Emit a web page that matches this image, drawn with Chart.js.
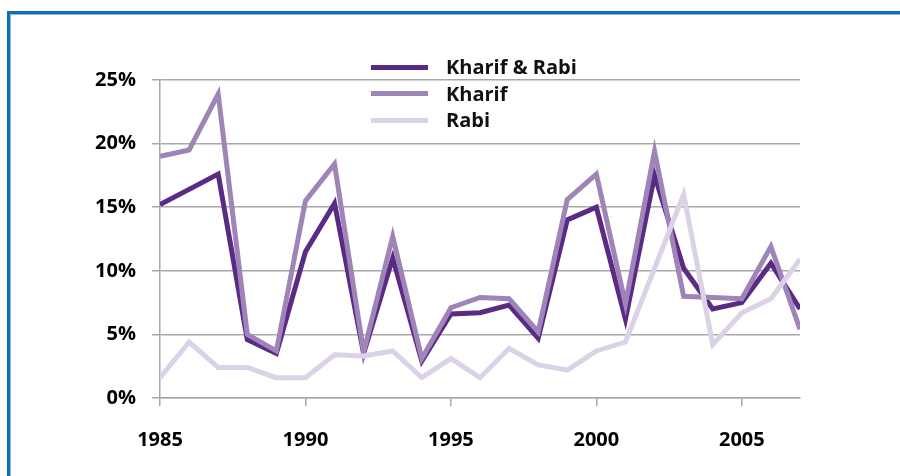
<!DOCTYPE html>
<html>
<head>
<meta charset="utf-8">
<script src="https://cdn.jsdelivr.net/npm/chart.js@4/dist/chart.umd.min.js"></script>
<style>
  html, body { margin: 0; padding: 0; background: #fff; }
  #wrap { position: relative; width: 900px; height: 476px; overflow: hidden; font-family: "Open Sans", sans-serif; }
  #frame { position: absolute; left: 7px; top: 11px; width: 1000px; height: 600px; border-top: 3px solid #0e6fb4; border-left: 3px solid #0e6fb4; }
  #frame-in { position: absolute; left: 0; top: 0; right: 0; bottom: 0; border-top: 1px solid #8ab9df; border-left: 1px solid #8ab9df; }
  canvas { position: absolute; left: 0; top: 0; }
  #legend { position: absolute; left: 371px; top: 54px; }
  .row { height: 26.5px; display: flex; align-items: center; }
  .swatch { width: 57px; height: 5px; margin-right: 18px; }
  .row span { font-weight: 700; font-size: 20px; color: #111; line-height: 1; }
</style>
</head>
<body>
<div id="wrap">
  <div id="frame"><div id="frame-in"></div></div>
  <canvas id="chart" width="900" height="476"></canvas>
  <div id="legend"></div>
</div>
<script>
  // annees et series (part en %)
  const YEARS = [1985, 1986, 1987, 1988, 1989, 1990, 1991, 1992, 1993, 1994, 1995, 1996,
                 1997, 1998, 1999, 2000, 2001, 2002, 2003, 2004, 2005, 2006, 2007];
  const KHARIF_RABI = [15.2, 16.4, 17.6, 4.6, 3.5, 11.5, 15.3, 3.5, 11.0, 2.9, 6.6, 6.7,
                       7.3, 4.7, 14.0, 15.0, 6.2, 17.5, 10.2, 7.0, 7.5, 10.6, 7.0];
  const KHARIF = [19.0, 19.5, 23.9, 5.0, 3.7, 15.5, 18.4, 3.6, 12.7, 3.1, 7.1, 7.9,
                  7.8, 5.2, 15.6, 17.6, 7.4, 19.4, 8.0, 7.9, 7.8, 11.9, 5.4];
  const RABI = [1.6, 4.4, 2.4, 2.4, 1.6, 1.6, 3.4, 3.3, 3.7, 1.6, 3.1, 1.6,
                3.9, 2.6, 2.2, 3.7, 4.4, 10.2, 16.0, 4.2, 6.7, 7.8, 10.9];
  const Y_TICKS = [0, 5, 10, 15, 20, 25];
  const X_TICKS = [1985, 1990, 1995, 2000, 2005];

  const SERIES = [
    { label: 'Kharif & Rabi', data: KHARIF_RABI, color: '#5a2a85', order: 2 },
    { label: 'Kharif', data: KHARIF, color: '#9f84b8', order: 1 },
    { label: 'Rabi', data: RABI, color: '#dcd2e8', order: 0 },
  ];

  const GRID = '#a8a8a8';
  const FONT = { family: '"Open Sans", sans-serif', size: 20, weight: '700' };

  new Chart(document.getElementById('chart'), {
    type: 'line',
    data: {
      datasets: SERIES.map(s => ({
        label: s.label,
        data: YEARS.map((y, i) => ({ x: y, y: s.data[i] })),
        borderColor: s.color,
        backgroundColor: s.color,
        borderWidth: 5,
        borderJoinStyle: 'miter',
        pointRadius: 0,
        tension: 0,
        order: s.order,
      })),
    },
    options: {
      responsive: false,
      animation: false,
      layout: { padding: { left: 0, right: 100, top: 80, bottom: 0 } },
      plugins: { legend: { display: false }, tooltip: { enabled: false } },
      scales: {
        x: {
          type: 'linear',
          min: 1985,
          max: 2007,
          afterBuildTicks: sc => { sc.ticks = X_TICKS.map(v => ({ value: v })); },
          afterFit: sc => { sc.height = 78; },
          grid: { drawOnChartArea: false, drawTicks: true, tickLength: 8, color: GRID, lineWidth: 1.5 },
          border: { color: GRID, width: 1.5 },
          ticks: { font: FONT, color: '#000', padding: 22, maxRotation: 0, callback: v => String(v) },
        },
        y: {
          min: 0,
          max: 25,
          afterBuildTicks: sc => { sc.ticks = Y_TICKS.map(v => ({ value: v })); },
          afterFit: sc => { sc.width = 160; },
          grid: { color: GRID, lineWidth: 1.5, tickLength: 8 },
          border: { color: GRID, width: 1.5 },
          ticks: { font: FONT, color: '#000', padding: 16, callback: v => v + '%' },
        },
      },
    },
  });

  document.getElementById('legend').innerHTML = SERIES.map(s => `
    <div class="row"><div class="swatch" style="background:${s.color}"></div><span>${s.label}</span></div>`).join('');
</script>
</body>
</html>
